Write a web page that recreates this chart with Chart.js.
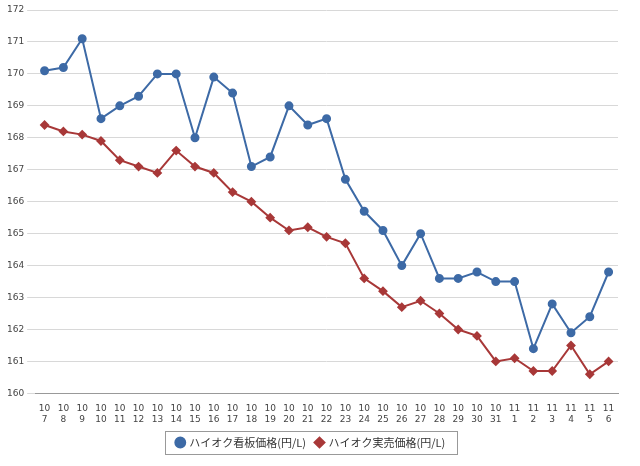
<!DOCTYPE html>
<html><head><meta charset="utf-8">
<script src="https://cdn.jsdelivr.net/npm/chart.js@4"></script>
<style>html,body{margin:0;background:#fff}#wrap{width:640px;height:466px}</style>
</head><body><div id="wrap"><canvas id="c"></canvas></div>
<script>
// month / day pairs for the x axis
const months = ['10','10','10','10','10','10','10','10','10','10','10','10','10','10','10','10','10','10','10','10','10','10','10','10','10','11','11','11','11','11','11'];
const days = ['7','8','9','10','11','12','13','14','15','16','17','18','19','20','21','22','23','24','25','26','27','28','29','30','31','1','2','3','4','5','6'];
const signPrice = [170.1,170.2,171.1,168.6,169.0,169.3,170.0,170.0,168.0,169.9,169.4,167.1,167.4,169.0,168.4,168.6,166.7,165.7,165.1,164.0,165.0,163.6,163.6,163.8,163.5,163.5,161.4,162.8,161.9,162.4,163.8];
const salePrice = [168.4,168.2,168.1,167.9,167.3,167.1,166.9,167.6,167.1,166.9,166.3,166.0,165.5,165.1,165.2,164.9,164.7,163.6,163.2,162.7,162.9,162.5,162.0,161.8,161.0,161.1,160.7,160.7,161.5,160.6,161.0];

const BLUE = '#3d6aa6', RED = '#a83838';

// Chart.js legends have no frame; draw one around the legend items.
const legendFrame = {
  id: 'legendFrame',
  afterDraw(chart) {
    const boxes = chart.legend.legendHitBoxes;
    if (!boxes.length) return;
    const l = Math.min(...boxes.map(b => b.left)) - 12;
    const r = Math.max(...boxes.map(b => b.left + b.width)) + 12;
    const t = Math.min(...boxes.map(b => b.top)) - 6;
    const bt = Math.max(...boxes.map(b => b.top + b.height)) + 6;
    const ctx = chart.ctx;
    ctx.save();
    ctx.strokeStyle = '#999';
    ctx.lineWidth = 1;
    ctx.strokeRect(Math.round(l) + 0.5, Math.round(t) + 0.5, Math.round(r - l), Math.round(bt - t));
    ctx.restore();
  },
};

new Chart(document.getElementById('c'), {
  type: 'line',
  data: {
    labels: months.map((m, i) => [m, days[i]]),
    datasets: [
      { label: 'ハイオク看板価格(円/L)', data: signPrice, borderColor: BLUE, backgroundColor: BLUE,
        borderWidth: 2, pointRadius: 3.5, pointStyle: 'circle', tension: 0 },
      { label: 'ハイオク実売価格(円/L)', data: salePrice, borderColor: RED, backgroundColor: RED,
        borderWidth: 2, pointRadius: 3.5, pointStyle: 'rectRot', tension: 0 },
    ],
  },
  plugins: [legendFrame],
  options: {
    responsive: true,
    maintainAspectRatio: false,
    animation: false,
    layout: { padding: { left: 4, right: 22, top: 10, bottom: 8 } },
    scales: {
      x: {
        offset: true,
        grid: { display: false },
        border: { color: '#999' },
        ticks: { color: '#444', font: { size: 9, family: 'DejaVu Sans' }, maxRotation: 0, autoSkip: false, padding: 2 },
      },
      y: {
        min: 160, max: 172,
        grid: { color: '#d8d8d8' },
        border: { display: false },
        ticks: { stepSize: 1, color: '#444', font: { size: 9, family: 'DejaVu Sans' } },
      },
    },
    plugins: {
      legend: {
        position: 'bottom',
        labels: { usePointStyle: true, color: '#333', font: { size: 11, family: 'Noto Sans CJK JP' }, padding: 10, boxWidth: 7, boxHeight: 7 },
      },
      tooltip: { enabled: false },
    },
  },
});
</script></body></html>
